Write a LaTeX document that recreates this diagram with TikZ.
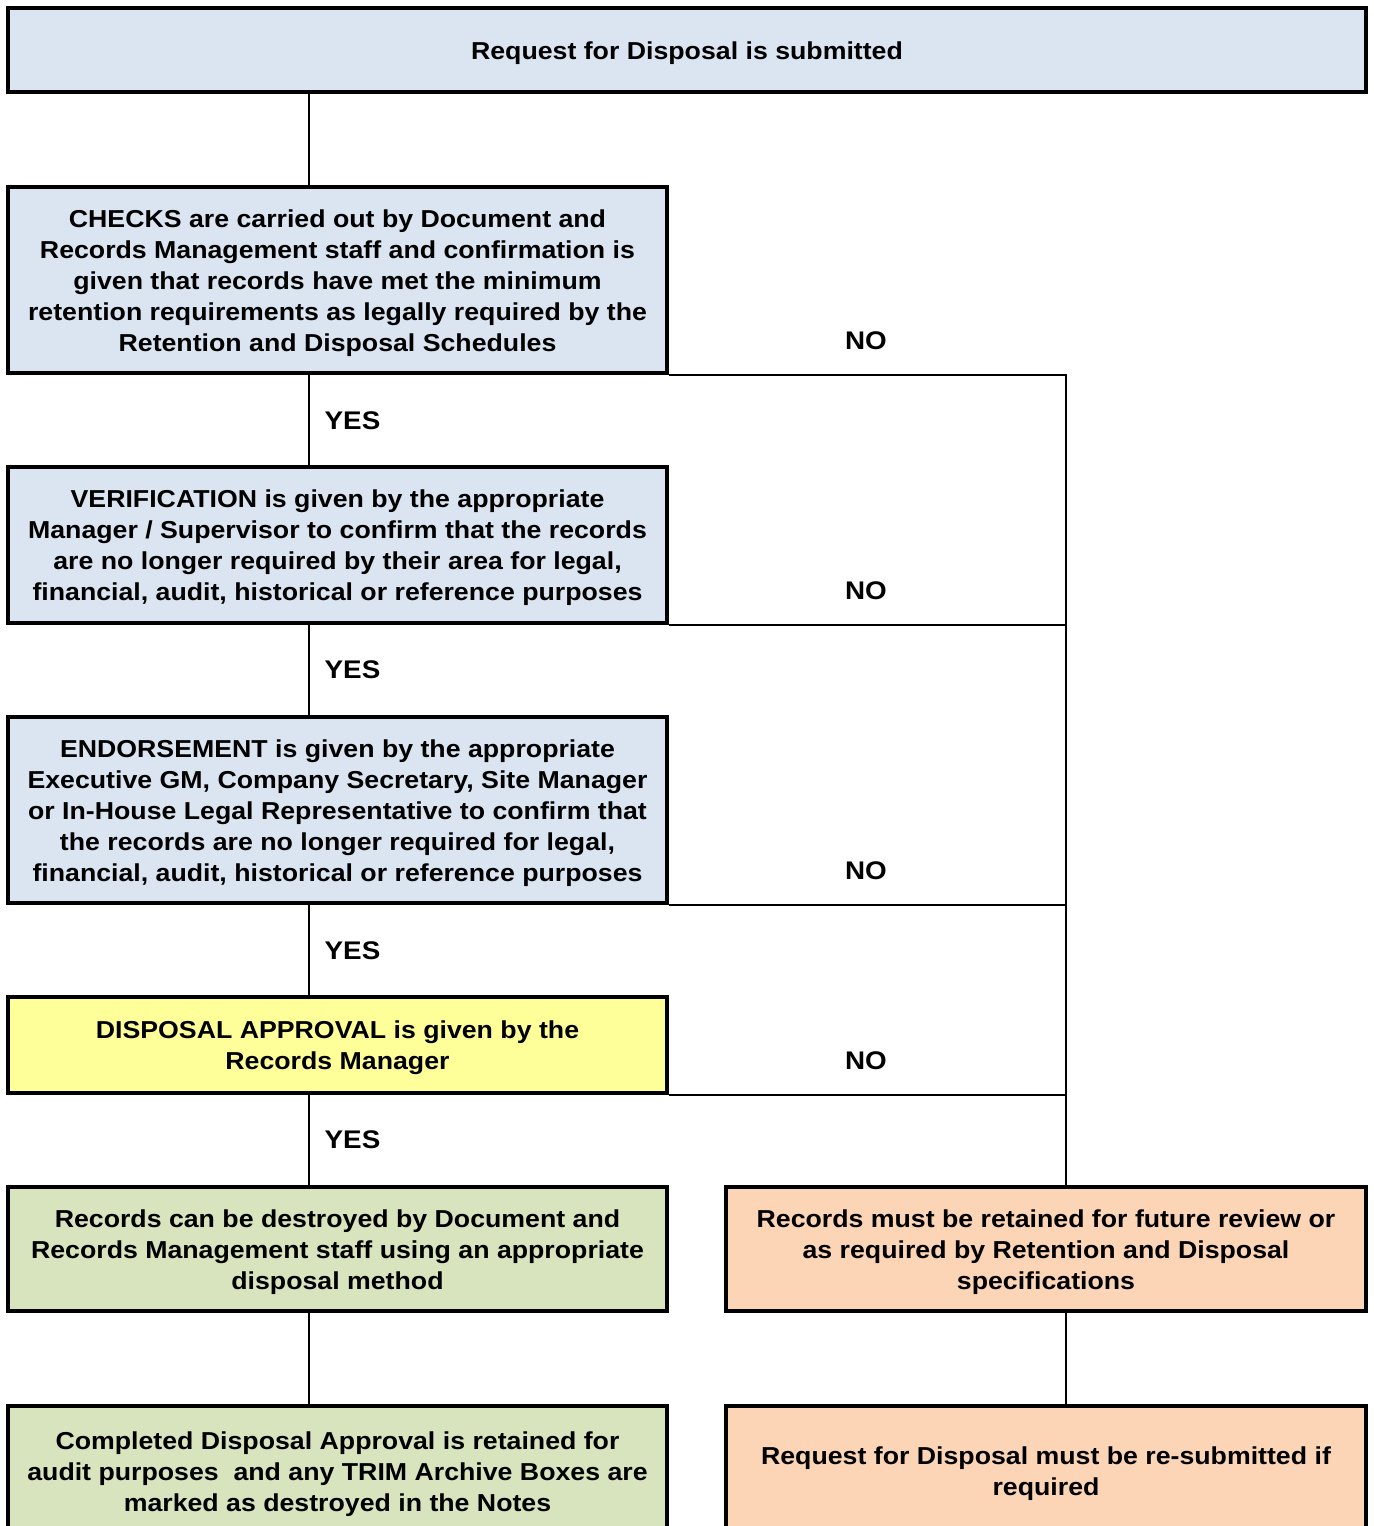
\documentclass[tikz,border=0pt]{standalone}
\usepackage{fontspec}
\setmainfont[FakeStretch=1.09]{Liberation Sans}
\definecolor{cblue}{HTML}{DBE5F1}
\definecolor{cyellow}{HTML}{FFFF99}
\definecolor{cgreen}{HTML}{D7E4BD}
\definecolor{corange}{HTML}{FBD5B5}
\begin{document}
\begin{tikzpicture}[x=1bp,y=-1bp,
  box/.style={draw=black, line width=4bp, inner sep=0pt},
  lbox/.style={box, minimum width=659bp},
  rbox/.style={box, minimum width=640bp},
  txt/.style={align=center, inner sep=0pt,
    font=\fontsize{24.5bp}{31bp}\selectfont\bfseries},
  conn/.style={draw=black, line width=2bp},
  lab/.style={font=\fontsize{25.5bp}{31bp}\selectfont\bfseries, inner sep=0pt}]
\useasboundingbox (0,0) rectangle (1374,1526);
\clip (0,0) rectangle (1374,1526);
\coordinate (xl) at (309,0);
\coordinate (xr) at (1066,0);

\node[box, fill=cblue, minimum width=1358bp, minimum height=84bp] (top) at (687,50) {};
\node[txt] (top-t) at ([yshift=-3bp]top.center) {Request for Disposal is submitted};
\node[lbox, fill=cblue, minimum height=186bp] (checks) at (337.5,280) {};
\node[txt] (checks-t) at ([yshift=-3bp]checks.center)
  {CHECKS are carried out by Document and\\Records Management staff and confirmation is\\given that records have met the minimum\\retention requirements as legally required by the\\Retention and Disposal Schedules};
\node[lbox, fill=cblue, minimum height=156bp] (verif) at (337.5,545) {};
\node[txt] (verif-t) at ([yshift=-3bp]verif.center)
  {VERIFICATION is given by the appropriate\\Manager / Supervisor to confirm that the records\\are no longer required by their area for legal,\\financial, audit, historical or reference purposes};
\node[lbox, fill=cblue, minimum height=186bp] (endorse) at (337.5,810) {};
\node[txt] (endorse-t) at ([yshift=-3bp]endorse.center)
  {ENDORSEMENT is given by the appropriate\\Executive GM, Company Secretary, Site Manager\\or In-House Legal Representative to confirm that\\the records are no longer required for legal,\\financial, audit, historical or reference purposes};
\node[lbox, fill=cyellow, minimum height=96bp] (approve) at (337.5,1045) {};
\node[txt] (approve-t) at ([yshift=-3bp]approve.center)
  {DISPOSAL APPROVAL is given by the\\Records Manager};
\node[lbox, fill=cgreen, minimum height=124bp] (destroy) at (337.5,1249) {};
\node[txt] (destroy-t) at ([yshift=-3bp]destroy.center)
  {Records can be destroyed by Document and\\Records Management staff using an appropriate\\disposal method};
\node[rbox, fill=corange, minimum height=124bp] (retain) at (1046,1249) {};
\node[txt] (retain-t) at ([yshift=-3bp]retain.center)
  {Records must be retained for future review or\\as required by Retention and Disposal\\specifications};
\node[lbox, fill=cgreen, minimum height=130bp] (complete) at (337.5,1471) {};
\node[txt] (complete-t) at ([yshift=-3bp]complete.center)
  {Completed Disposal Approval is retained for\\audit purposes \ and any TRIM Archive Boxes are\\marked as destroyed in the Notes};
\node[rbox, fill=corange, minimum height=130bp] (resubmit) at (1046,1471) {};
\node[txt] (resubmit-t) at ([yshift=-3bp]resubmit.center)
  {Request for Disposal must be re-submitted if\\required};

% YES path
\draw[conn] (top.south -| xl) -- (checks.north -| xl);
\draw[conn] (checks.south -| xl) -- (verif.north -| xl);
\draw[conn] (verif.south -| xl) -- (endorse.north -| xl);
\draw[conn] (endorse.south -| xl) -- (approve.north -| xl);
\draw[conn] (approve.south -| xl) -- (destroy.north -| xl);
\draw[conn] (destroy.south -| xl) -- (complete.north -| xl);
% NO path
\draw[conn] (checks.south east) -- (checks.south east -| xr) -- (retain.north -| xr);
\draw[conn] (verif.south east) -- (verif.south east -| xr);
\draw[conn] (endorse.south east) -- (endorse.south east -| xr);
\draw[conn] (approve.south east) -- (approve.south east -| xr);
\draw[conn] (retain.south -| xr) -- (resubmit.north -| xr);

\node[lab] (yes1) at (352.5,421) {YES};
\node[lab] (yes2) at (352.5,670) {YES};
\node[lab] (yes3) at (352.5,951) {YES};
\node[lab] (yes4) at (352.5,1140) {YES};
\node[lab] (no1) at (866,341) {NO};
\node[lab] (no2) at (866,591) {NO};
\node[lab] (no3) at (866,871) {NO};
\node[lab] (no4) at (866,1061) {NO};
\end{tikzpicture}
\end{document}
